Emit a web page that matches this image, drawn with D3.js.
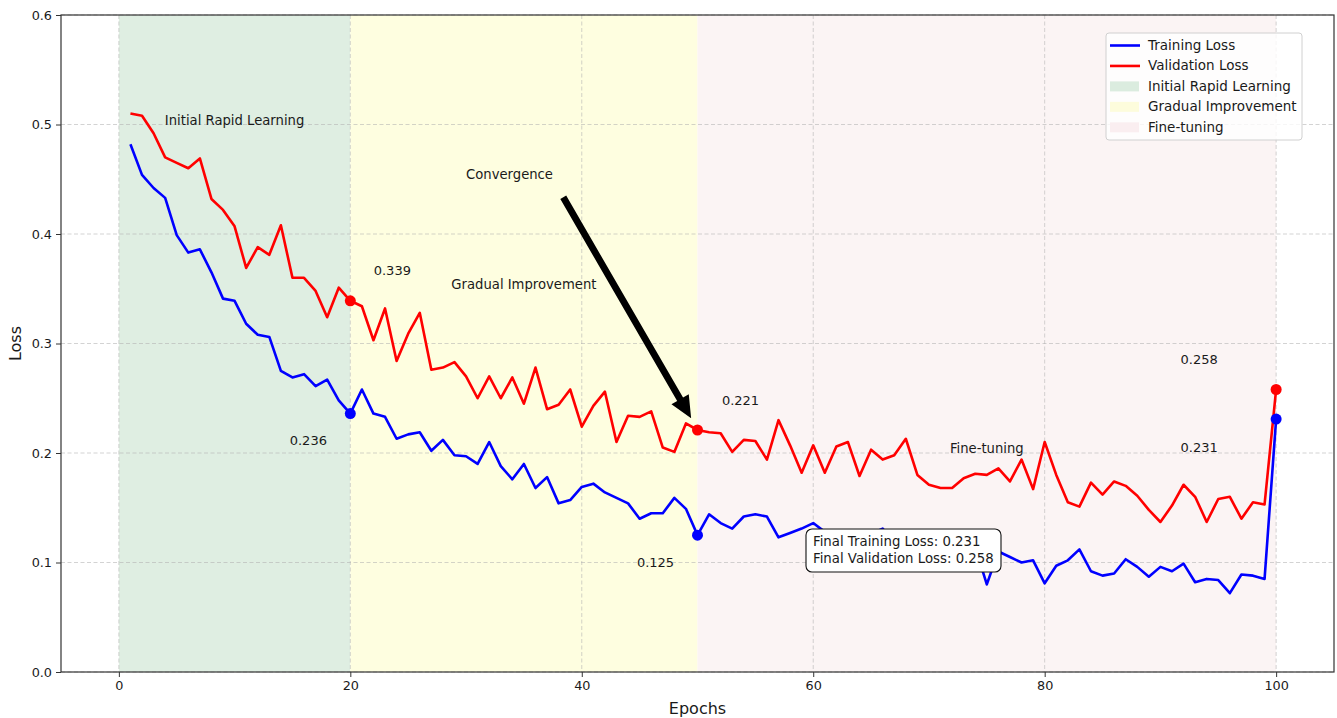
<!DOCTYPE html>
<html>
<head>
<meta charset="utf-8">
<script src="https://cdn.jsdelivr.net/npm/d3@7"></script>
<style>
  html, body { margin: 0; padding: 0; background: #fff; }
  svg { display: block; font-family: "DejaVu Sans", sans-serif; }
</style>
</head>
<body>
<svg id="chart" width="1337" height="718"></svg>
<script>
// ---------- data ----------
const epochs = d3.range(1, 101);
const trainingLoss = [
  0.482, 0.454, 0.442, 0.433, 0.399, 0.383, 0.386, 0.365, 0.341, 0.339,
  0.318, 0.308, 0.306, 0.275, 0.269, 0.272, 0.261, 0.267, 0.248, 0.236,
  0.258, 0.236, 0.233, 0.213, 0.217, 0.219, 0.202, 0.212, 0.198, 0.197,
  0.190, 0.210, 0.188, 0.176, 0.190, 0.168, 0.178, 0.154, 0.157, 0.169,
  0.172, 0.164, 0.159, 0.154, 0.140, 0.145, 0.145, 0.159, 0.149, 0.125,
  0.144, 0.136, 0.131, 0.142, 0.144, 0.142, 0.123, 0.127, 0.131, 0.136,
  0.128, 0.125, 0.129, 0.121, 0.126, 0.131, 0.118, 0.122, 0.116, 0.119,
  0.113, 0.117, 0.111, 0.114, 0.080, 0.110, 0.105, 0.100, 0.102, 0.081,
  0.097, 0.102, 0.112, 0.092, 0.088, 0.090, 0.103, 0.096, 0.087, 0.096,
  0.092, 0.099, 0.082, 0.085, 0.084, 0.072, 0.089, 0.088, 0.085, 0.231
];
const validationLoss = [
  0.510, 0.508, 0.492, 0.470, 0.465, 0.460, 0.469, 0.432, 0.422, 0.407,
  0.369, 0.388, 0.381, 0.408, 0.360, 0.360, 0.348, 0.324, 0.351, 0.339,
  0.334, 0.303, 0.332, 0.284, 0.309, 0.328, 0.276, 0.278, 0.283, 0.270,
  0.250, 0.270, 0.250, 0.269, 0.245, 0.278, 0.240, 0.244, 0.258, 0.224,
  0.243, 0.256, 0.210, 0.234, 0.233, 0.238, 0.205, 0.201, 0.227, 0.221,
  0.219, 0.218, 0.201, 0.212, 0.211, 0.194, 0.230, 0.207, 0.182, 0.207,
  0.182, 0.206, 0.210, 0.179, 0.203, 0.194, 0.198, 0.213, 0.180, 0.171,
  0.168, 0.168, 0.177, 0.181, 0.180, 0.186, 0.174, 0.194, 0.167, 0.210,
  0.180, 0.155, 0.151, 0.173, 0.162, 0.174, 0.170, 0.161, 0.148, 0.137,
  0.152, 0.171, 0.160, 0.137, 0.158, 0.160, 0.140, 0.155, 0.153, 0.258
];
const phaseNames = ["Initial Rapid Learning", "Gradual Improvement", "Fine-tuning"];
const phaseStarts = [0, 20, 50];
const phaseEnds = [20, 50, 100];
const phaseLabelX = [10, 35, 75];
const phaseLabelY = [0.5, 0.35, 0.2];
const markedEpochs = [20, 50, 100];
const xTicks = [0, 20, 40, 60, 80, 100];
const yTicks = [0.0, 0.1, 0.2, 0.3, 0.4, 0.5, 0.6];

// ---------- styles ----------
const phaseColors = ["#dfeee2", "#fefee0", "#fbf4f4"];
const legendPatchColors = ["#dbecdf", "#fdfcdc", "#faeef0"];
const trainColor = "#0000ff";
const valColor = "#ff0000";
// label offsets (px) for the marked values [train, val] per marked epoch
const trainOffsets = [[-42, 31], [-42, 32], [-77, 33]];
const valOffsets = [[42, -26], [43, -25], [-77, -25]];

const svg = d3.select("#chart");
const margin = { left: 61, right: 1334, top: 15, bottom: 672 };
const x = d3.scaleLinear().domain([-5, 105]).range([margin.left, margin.right]);
const y = d3.scaleLinear().domain([0, 0.6]).range([margin.bottom, margin.top]);

// phase regions
svg.append("g").selectAll("rect").data(phaseNames).join("rect")
  .attr("x", (d, i) => x(phaseStarts[i]))
  .attr("width", (d, i) => x(phaseEnds[i]) - x(phaseStarts[i]))
  .attr("y", margin.top)
  .attr("height", margin.bottom - margin.top)
  .attr("fill", (d, i) => phaseColors[i]);

// grid
const grid = svg.append("g").attr("stroke", "#b0b0b0").attr("stroke-opacity", 0.7)
  .attr("stroke-dasharray", "4,2.5").attr("stroke-width", 0.8);
grid.selectAll("line.gx").data(xTicks).join("line").attr("class", "gx")
  .attr("x1", d => x(d)).attr("x2", d => x(d))
  .attr("y1", margin.top).attr("y2", margin.bottom);
grid.selectAll("line.gy").data(yTicks).join("line").attr("class", "gy")
  .attr("y1", d => y(d)).attr("y2", d => y(d))
  .attr("x1", margin.left).attr("x2", margin.right);

// lines
const lineGen = vals => d3.line().x((d, i) => x(epochs[i])).y(d => y(d))(vals);
svg.append("path").attr("d", lineGen(trainingLoss))
  .attr("fill", "none").attr("stroke", trainColor).attr("stroke-width", 2.6)
  .attr("stroke-linejoin", "round");
svg.append("path").attr("d", lineGen(validationLoss))
  .attr("fill", "none").attr("stroke", valColor).attr("stroke-width", 2.6)
  .attr("stroke-linejoin", "round");

// markers + value labels
const marks = svg.append("g");
markedEpochs.forEach((e, k) => {
  const tv = trainingLoss[e - 1], vv = validationLoss[e - 1];
  marks.append("circle").attr("cx", x(e)).attr("cy", y(vv)).attr("r", 5.5).attr("fill", valColor);
  marks.append("circle").attr("cx", x(e)).attr("cy", y(tv)).attr("r", 5.5).attr("fill", trainColor);
  marks.append("text").attr("x", x(e) + valOffsets[k][0]).attr("y", y(vv) + valOffsets[k][1])
    .attr("text-anchor", "middle").attr("font-size", 13).attr("fill", "#1a1a1a")
    .text(vv.toFixed(3));
  marks.append("text").attr("x", x(e) + trainOffsets[k][0]).attr("y", y(tv) + trainOffsets[k][1])
    .attr("text-anchor", "middle").attr("font-size", 13).attr("fill", "#1a1a1a")
    .text(tv.toFixed(3));
});

// phase labels
svg.append("g").selectAll("text").data(phaseNames).join("text")
  .attr("x", (d, i) => x(phaseLabelX[i]))
  .attr("y", (d, i) => y(phaseLabelY[i]))
  .attr("text-anchor", "middle").attr("font-size", 13.2).attr("fill", "#1a1a1a")
  .text(d => d);

// convergence annotation
svg.append("text").attr("x", x(30)).attr("y", y(0.45))
  .attr("font-size", 13.2).attr("fill", "#1a1a1a").text("Convergence");
{
  const x0 = x(38.4), y0 = y(0.4335), x1 = x(49.45), y1 = y(0.2317);
  const ang = Math.atan2(y1 - y0, x1 - x0);
  const headLen = 22, headW = 10, shaftW = 3.4;
  const bx = x1 - headLen * Math.cos(ang), by = y1 - headLen * Math.sin(ang);
  const px = -Math.sin(ang), py = Math.cos(ang);
  const pts = [
    [x0 + px * shaftW, y0 + py * shaftW],
    [bx + px * shaftW, by + py * shaftW],
    [bx + px * headW, by + py * headW],
    [x1, y1],
    [bx - px * headW, by - py * headW],
    [bx - px * shaftW, by - py * shaftW],
    [x0 - px * shaftW, y0 - py * shaftW]
  ];
  svg.append("polygon").attr("points", pts.map(p => p.join(",")).join(" "))
    .attr("fill", "#000");
}

// final box
{
  const g = svg.append("g");
  g.append("rect").attr("x", 806).attr("y", 529).attr("width", 195).attr("height", 43)
    .attr("rx", 6).attr("fill", "#fff").attr("stroke", "#111").attr("stroke-width", 1.1);
  g.append("text").attr("x", 813).attr("y", 546).attr("font-size", 13.3).attr("fill", "#1a1a1a")
    .text("Final Training Loss: " + trainingLoss[99].toFixed(3));
  g.append("text").attr("x", 813).attr("y", 563).attr("font-size", 13.3).attr("fill", "#1a1a1a")
    .text("Final Validation Loss: " + validationLoss[99].toFixed(3));
}

// axes
const xAxis = d3.axisBottom(x).tickValues(xTicks).tickSize(5).tickPadding(4).tickFormat(d3.format("d"));
const yAxis = d3.axisLeft(y).tickValues(yTicks).tickSize(5).tickPadding(4).tickFormat(d3.format(".1f"));
const gx = svg.append("g").attr("transform", `translate(0,${margin.bottom})`).call(xAxis);
const gy = svg.append("g").attr("transform", `translate(${margin.left},0)`).call(yAxis);
[gx, gy].forEach(g => {
  g.select(".domain").remove();
  g.selectAll(".tick line").attr("stroke", "#333").attr("stroke-width", 1);
  g.selectAll(".tick text").attr("font-size", 12.8).attr("fill", "#1a1a1a")
    .attr("font-family", "DejaVu Sans");
});
// frame
svg.append("rect").attr("x", margin.left).attr("y", margin.top)
  .attr("width", margin.right - margin.left).attr("height", margin.bottom - margin.top)
  .attr("fill", "none").attr("stroke", "#333").attr("stroke-width", 1.2);

svg.append("text").attr("x", (margin.left + margin.right) / 2).attr("y", 714)
  .attr("text-anchor", "middle").attr("font-size", 16).attr("fill", "#1a1a1a").text("Epochs");
svg.append("text").attr("transform", `translate(21,${(margin.top + margin.bottom) / 2}) rotate(-90)`)
  .attr("text-anchor", "middle").attr("font-size", 16).attr("fill", "#1a1a1a").text("Loss");

// legend
{
  const g = svg.append("g").attr("font-size", 13.5);
  g.append("rect").attr("x", 1106).attr("y", 33).attr("width", 196).attr("height", 107)
    .attr("rx", 3).attr("fill", "#fff").attr("fill-opacity", 0.8)
    .attr("stroke", "#d0d0d0").attr("stroke-width", 1);
  const items = [
    { label: "Training Loss", type: "line", color: trainColor },
    { label: "Validation Loss", type: "line", color: valColor },
    ...phaseNames.map((n, i) => ({ label: n, type: "patch", color: legendPatchColors[i] }))
  ];
  const rowY = d3.scaleLinear().domain([0, 4]).range([45.5, 127.3]);
  items.forEach((it, i) => {
    const cy = rowY(i);
    if (it.type === "line") {
      g.append("line").attr("x1", 1110).attr("x2", 1140).attr("y1", cy).attr("y2", cy)
        .attr("stroke", it.color).attr("stroke-width", 2.6);
    } else {
      g.append("rect").attr("x", 1110).attr("y", cy - 5).attr("width", 29).attr("height", 10)
        .attr("fill", it.color);
    }
    g.append("text").attr("x", 1148).attr("y", cy + 4.5).attr("fill", "#1a1a1a").text(it.label);
  });
}
</script>
</body>
</html>
